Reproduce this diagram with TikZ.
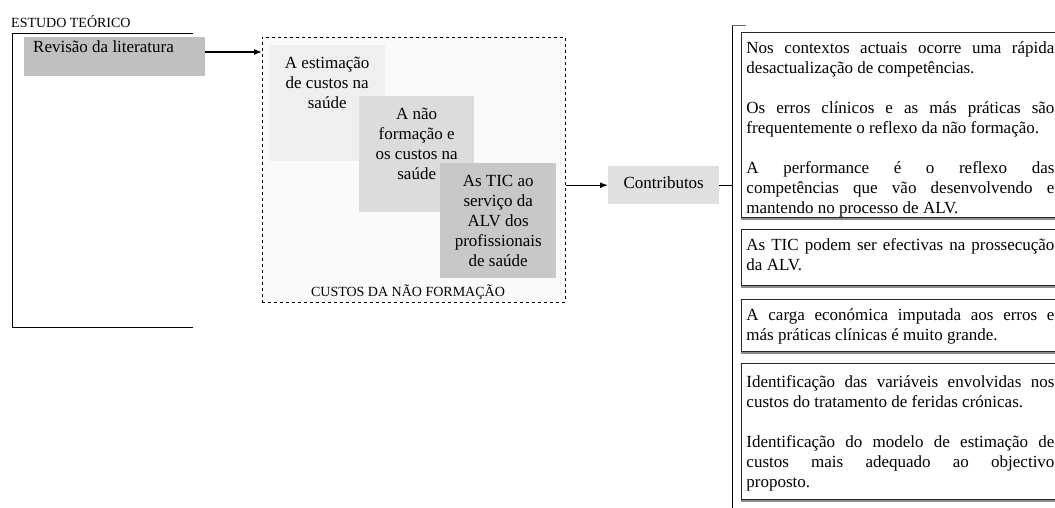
\documentclass[tikz,border=0pt]{standalone}
\usepackage{fontspec}
\setmainfont{Liberation Serif}
\usetikzlibrary{arrows.meta}
\definecolor{gA}{HTML}{EFEFEF}
\definecolor{gB}{HTML}{DCDCDC}
\definecolor{gC}{HTML}{C8C8C8}
\definecolor{gRev}{HTML}{C0C0C0}
\definecolor{gCon}{HTML}{E0E0E0}
\definecolor{gDash}{HTML}{FAFAFA}
\newcommand{\bigfs}{\fontsize{17pt}{20pt}\selectfont}
\newcommand{\smallfs}{\fontsize{14pt}{17pt}\selectfont}
\newcommand{\jl}[1]{\makebox[308pt][s]{#1}}
\newcommand{\cbox}[3]{\parbox[c][#2][t]{#1}{\centering\baselineskip=20pt\rule{0pt}{23pt}#3}}
\newcommand{\rtext}[3]{\parbox[c][#1][t]{330pt}{\leftskip=5pt\baselineskip=20pt\lineskiplimit=-20pt\rule{0pt}{#2}#3}}
\tikzset{
  plainbox/.style={anchor=north west, inner sep=0pt, font=\bigfs},
  rbox/.style={anchor=north west, inner sep=0pt, font=\bigfs, draw=black!85, line width=0.9pt, fill=white},
  arr/.style={line width=1.2pt, -{Latex[length=8pt,width=6pt]}},
  brline/.style={line width=0.9pt, black},
}
\begin{document}
\begin{tikzpicture}[x=1pt,y=-1pt]
\useasboundingbox (0,0) rectangle (1055,507);
\clip (0,0) rectangle (1055,507);
\fill[white] (0,0) rectangle (1055,507);

% left bracket
\node[anchor=base west, inner sep=0pt, font=\smallfs] (estudo) at (11,27) {ESTUDO TEÓRICO};
\draw[brline] (193,33) -- (12,33) -- (12,327) -- (193,327);

\node[plainbox, fill=gRev] (rev) at (24,37)
  {\parbox[c][39pt][t]{181pt}{\hspace*{9pt}\rule{0pt}{15pt}Revisão da literatura}};

% dashed container
\node[anchor=north west, inner sep=0pt, draw, dashed, line width=0.9pt, fill=gDash,
      minimum width=303pt, minimum height=265pt] (dbox) at (262,37) {};
\node[plainbox, fill=gA] (b1) at (269,45) {\cbox{116pt}{116pt}{A estimação\\ de custos na\\ saúde}};
\node[plainbox, fill=gB] (b2) at (359,96) {\cbox{115pt}{116pt}{A não\\ formação e\\ os custos na\\ saúde}};
\node[plainbox, fill=gC] (b3) at (440,163) {\cbox{116pt}{115pt}{As TIC ao\\ serviço da\\ ALV dos\\ profissionais\\ de saúde}};
\node[anchor=base, inner sep=0pt, font=\smallfs] (custos) at (408,296) {CUSTOS DA NÃO FORMAÇÃO};

% contributos
\node[plainbox, fill=gCon] (contrib) at (608,166)
  {\parbox[c][38pt][t]{111pt}{\centering\rule{0pt}{22pt}Contributos}};

% arrows
\draw[arr] ([yshift=-15pt]rev.north east) -- ([yshift=-15pt]rev.north east -| dbox.west);
\draw[arr] (contrib.west -| dbox.east) -- (contrib.west);

% right bracket
\coordinate (brtop) at (732,25);
\coordinate (brbot) at (732,510);
\coordinate (brtick) at (746,25);
\draw[brline] (brtop) -- (brbot);
\draw[line width=0.9pt, black!60] (brtop) -- (brtick);
\draw[brline] (contrib.east) -- (contrib.east -| brtop);

% right boxes
\node[rbox] (rA) at (741,32) {\rtext{185pt}{21pt}{%
\jl{Nos contextos actuais ocorre uma rápida}\\
desactualização de competências.\\
\mbox{}\\
\jl{Os erros clínicos e as más práticas são}\\
frequentemente o reflexo da não formação.\\
\mbox{}\\
\jl{A performance é o reflexo das}\\
\jl{competências que vão desenvolvendo e}\\
mantendo no processo de ALV.}};
\node[rbox] (rB) at (741,229) {\rtext{56pt}{21pt}{%
\jl{As TIC podem ser efectivas na prossecução}\\
da ALV.}};
\node[rbox] (rC) at (741,299) {\rtext{52pt}{21pt}{%
\jl{A carga económica imputada aos erros e}\\
más práticas clínicas é muito grande.}};
\node[rbox] (rD) at (741,363) {\rtext{136pt}{24pt}{%
\jl{Identificação das variáveis envolvidas nos}\\
custos do tratamento de feridas crónicas.\\
\mbox{}\\
\jl{Identificação do modelo de estimação de}\\
\jl{custos mais adequado ao objectivo}\\
proposto.}};
\foreach \b in {rA,rB,rC,rD}{
  \draw[black!45, line width=1.2pt] ([yshift=-1.1pt]\b.south west) -- ([yshift=-1.1pt]\b.south east);
}
\end{tikzpicture}
\end{document}
